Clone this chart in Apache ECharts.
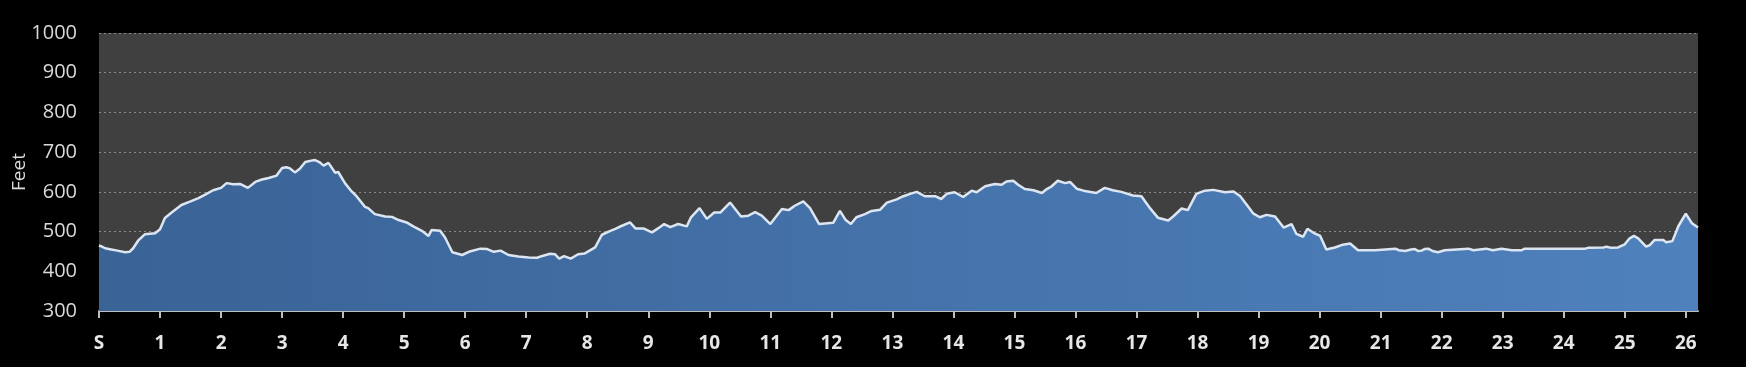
<!DOCTYPE html>
<html>
<head>
<meta charset="utf-8">
<style>
  html, body { margin: 0; padding: 0; background: #000; }
  #chart { width: 1746px; height: 367px; }
</style>
<script src="https://cdn.jsdelivr.net/npm/echarts@6/dist/echarts.min.js"></script>
</head>
<body>
<div id="chart"></div>
<script>
// Distance along the course (miles)
const miles = [
  0.00, 0.05, 0.10, 0.20, 0.30, 0.43, 0.50, 0.56, 0.64, 0.75, 0.92,
  1.00, 1.08, 1.19, 1.35, 1.50, 1.63, 1.74, 1.87,
  2.00, 2.09, 2.20, 2.31, 2.44, 2.56, 2.67, 2.78, 2.91,
  3.00, 3.07, 3.13, 3.21, 3.29, 3.38, 3.46, 3.54, 3.61, 3.68, 3.76, 3.87, 3.92,
  4.03, 4.14, 4.22, 4.36, 4.41, 4.52, 4.69, 4.80, 4.91,
  5.04, 5.15, 5.29, 5.40, 5.45, 5.59, 5.67, 5.79, 5.95,
  6.06, 6.25, 6.36, 6.47, 6.58, 6.71, 6.87,
  7.04, 7.18, 7.25, 7.39, 7.47, 7.54, 7.62, 7.73, 7.85, 7.96,
  8.13, 8.24, 8.35, 8.46, 8.56, 8.70, 8.79, 8.92,
  9.06, 9.16, 9.26, 9.36, 9.49, 9.63, 9.70, 9.84, 9.96,
  10.08, 10.18, 10.34, 10.52, 10.64, 10.75, 10.86,
  11.00, 11.19, 11.30, 11.40, 11.54, 11.65, 11.80,
  12.03, 12.14, 12.23, 12.32, 12.41, 12.55, 12.66, 12.80, 12.91,
  13.07, 13.18, 13.29, 13.40, 13.53, 13.70, 13.80, 13.89,
  14.02, 14.16, 14.30, 14.38, 14.52, 14.68, 14.79, 14.87, 14.98,
  15.06, 15.17, 15.31, 15.45, 15.53, 15.61, 15.71, 15.83, 15.91,
  16.02, 16.13, 16.34, 16.48, 16.61, 16.75, 16.94,
  17.08, 17.21, 17.35, 17.52, 17.60, 17.74, 17.84, 17.98,
  18.12, 18.26, 18.45, 18.59, 18.70, 18.80, 18.91,
  19.02, 19.13, 19.27, 19.41, 19.54, 19.62, 19.73, 19.80, 19.90,
  20.01, 20.11, 20.25, 20.36, 20.50, 20.63, 20.91,
  21.24, 21.30, 21.40, 21.50, 21.56, 21.62, 21.67, 21.72, 21.78, 21.85, 21.94,
  22.05, 22.44, 22.52, 22.73, 22.84, 22.98,
  23.15, 23.31, 23.36,
  24.35, 24.40, 24.65, 24.70, 24.78, 24.89,
  25.00, 25.08, 25.15, 25.22, 25.35, 25.41, 25.49, 25.63, 25.68, 25.78, 25.88,
  26.00, 26.10, 26.20
];

// Elevation (feet)
const elevation = [
  465, 462, 458, 455, 452, 448, 449, 458, 477, 493, 496,
  506, 534, 548, 567, 576, 584, 593, 604,
  610, 622, 619, 620, 610, 625, 631, 635, 641,
  660, 662, 659, 649, 658, 675, 678, 680, 675, 666, 673, 648, 650,
  622, 601, 589, 562, 559, 544, 538, 537, 529,
  523, 513, 502, 489, 504, 502, 485, 448, 441,
  449, 457, 456, 449, 452, 441, 437,
  435, 434, 438, 444, 443, 432, 438, 432, 443, 445,
  460, 492, 500, 507, 514, 523, 508, 508,
  498, 508, 519, 511, 519, 513, 536, 559, 532,
  548, 548, 573, 538, 540, 549, 540,
  519, 557, 554, 565, 576, 559, 519,
  522, 552, 530, 519, 536, 544, 552, 555, 573,
  581, 589, 595, 600, 589, 589, 582, 595,
  599, 587, 603, 599, 614, 620, 618, 626, 628,
  618, 607, 604, 597, 607, 614, 628, 622, 625,
  608, 603, 597, 610, 604, 600, 591,
  589, 561, 535, 528, 538, 558, 554, 595,
  603, 605, 599, 601, 589, 569, 546,
  536, 542, 538, 510, 519, 494, 487, 507, 497,
  489, 455, 460, 466, 470, 453, 453,
  457, 453, 451, 455, 456, 451, 452, 456, 457, 451, 448,
  453, 457, 453, 457, 453, 457,
  453, 453, 457,
  457, 459, 460, 462, 459, 460,
  468, 483, 489, 483, 462, 466, 479, 479, 473, 476, 514,
  545, 521, 510
];

// Axis ticks and labels
const xTickValues = [0,1,2,3,4,5,6,7,8,9,10,11,12,13,14,15,16,17,18,19,20,21,22,23,24,25,26];
const xTickLabels = ['S','1','2','3','4','5','6','7','8','9','10','11','12','13','14','15','16','17','18','19','20','21','22','23','24','25','26'];
const yTicks = [300, 400, 500, 600, 700, 800, 900, 1000];

const points = miles.map((m, i) => [m, elevation[i]]);

const chart = echarts.init(document.getElementById('chart'));
chart.setOption({
  backgroundColor: '#000000',
  animation: false,
  grid: {
    left: 99, right: 48, top: 33, bottom: 56,
    outerBoundsMode: 'none', containLabel: false,
    show: true, backgroundColor: '#404040', borderWidth: 0
  },
  xAxis: {
    type: 'value',
    min: 0, max: 26.2, interval: 1,
    axisLine: { show: true, lineStyle: { color: '#bfbfbf', width: 2 } },
    axisTick: {
      show: true, length: 7, lineStyle: { color: '#bfbfbf', width: 2 },
      customValues: xTickValues
    },
    axisLabel: {
      customValues: xTickValues,
      formatter: v => { const i = xTickValues.indexOf(Math.round(v)); return i >= 0 ? xTickLabels[i] : ''; },
      color: '#e6e6e6', fontSize: 19, fontWeight: 'bold',
      fontFamily: 'Open Sans', margin: 23
    },
    splitLine: { show: false }
  },
  yAxis: {
    type: 'value',
    min: yTicks[0], max: yTicks[yTicks.length - 1], interval: 100,
    name: 'Feet', nameLocation: 'middle', nameGap: 70, nameRotate: 90,
    nameMoveOverlap: false,
    nameTextStyle: { color: '#d9d9d9', fontSize: 19, fontFamily: 'Open Sans' },
    axisLine: { show: false },
    axisTick: { show: false },
    axisLabel: {
      color: '#d9d9d9', fontSize: 20, fontFamily: 'Open Sans', margin: 22,
      formatter: v => String(v)
    },
    splitLine: { show: true, lineStyle: { color: '#8a8a8a', type: [2, 3], width: 1 } }
  },
  series: [{
    type: 'line',
    data: points,
    showSymbol: false,
    smooth: false,
    lineStyle: { color: '#dce6f2', width: 2.5 },
    areaStyle: {
      origin: 'start',
      opacity: 1,
      color: new echarts.graphic.LinearGradient(0, 0, 1, 0, [
        { offset: 0, color: '#3a6396' },
        { offset: 1, color: '#4f81bd' }
      ])
    },
    z: 3
  }]
});
</script>
</body>
</html>
